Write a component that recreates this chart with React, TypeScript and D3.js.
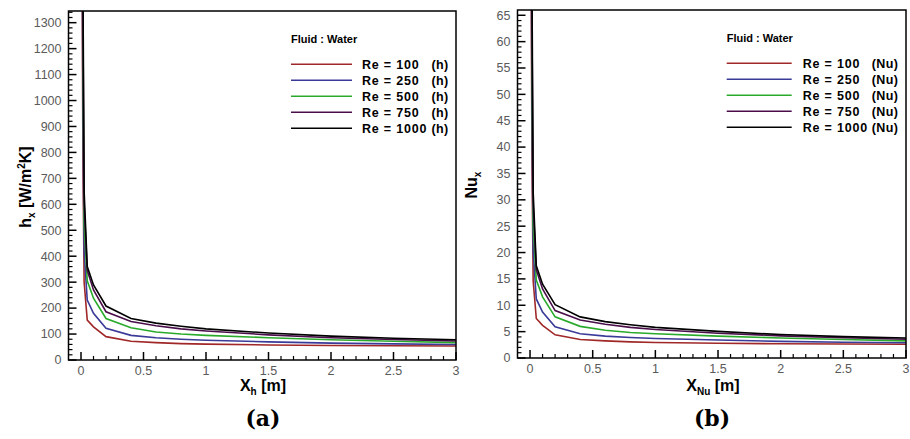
import React from "react";
import * as d3 from "d3";

const xs = [0.005, 0.015, 0.025, 0.05, 0.1, 0.2, 0.4, 0.6, 0.8, 1.0, 1.5, 2.0, 2.5, 3.0];

const reLabels = ["Re = 100", "Re = 250", "Re = 500", "Re = 750", "Re = 1000"];
const colors = ["#a02828", "#3a3a98", "#2aaa2a", "#4a0f4a", "#000000"];

const h100 = [2000, 800, 300, 154, 128, 90, 72, 67, 63, 61, 58, 56, 55, 54];
const h250 = [2300, 1000, 420, 231, 180, 122, 95, 86, 80, 76, 70, 65, 62, 60];
const h500 = [2600, 1200, 520, 305, 238, 160, 124, 108, 100, 95, 86, 78, 72, 67];
const h750 = [2800, 1350, 600, 345, 270, 186, 148, 132, 120, 112, 97, 86, 79, 73];
const h1000 = [3000, 1500, 650, 360, 289, 208, 160, 142, 130, 120, 104, 92, 84, 78];

const nu100 = [97, 39, 14.6, 7.5, 6.2, 4.4, 3.5, 3.25, 3.05, 2.95, 2.8, 2.7, 2.65, 2.6];
const nu250 = [112, 48.5, 20.4, 11.2, 8.7, 5.9, 4.6, 4.15, 3.9, 3.7, 3.4, 3.15, 3.0, 2.9];
const nu500 = [126, 58, 25, 14.8, 11.6, 7.8, 6.0, 5.25, 4.85, 4.6, 4.15, 3.8, 3.5, 3.25];
const nu750 = [136, 65.5, 29, 16.7, 13.1, 9.0, 7.2, 6.4, 5.8, 5.4, 4.7, 4.2, 3.85, 3.55];
const nu1000 = [146, 73, 31.5, 17.5, 14.0, 10.1, 7.8, 6.9, 6.3, 5.8, 5.05, 4.45, 4.05, 3.8];

const xTicks = [0, 0.5, 1, 1.5, 2, 2.5, 3];
const hTicks = d3.range(0, 1301, 100);
const nuTicks = d3.range(0, 66, 5);

const SANS = "'Liberation Sans', Arial, sans-serif";

type PanelProps = {
  id: string;
  x0: number; x1: number; y0: number; y1: number;
  yMax: number;
  yTicks: number[];
  yMinorStep: number;
  series: number[][];
  suffix: string;
  legX: number; legLineEnd: number; legTextX: number; legSufX: number; legTitleY: number; legRowY: number;
};

function Panel(p: PanelProps) {
  const x = d3.scaleLinear().domain([-0.1, 3]).range([p.x0, p.x1]);
  const y = d3.scaleLinear().domain([0, p.yMax]).range([p.y1, p.y0]);
  const line = d3.line<[number, number]>().x((d) => x(d[0])).y((d) => y(d[1]));
  const xMinor = d3.range(0, 3.0001, 0.1).filter((v) => Math.abs(v * 2 - Math.round(v * 2)) > 1e-6);
  const yMinor = d3.range(0, p.yMax, p.yMinorStep).filter((v) => !p.yTicks.some((t) => Math.abs(t - v) < 1e-6));
  return (
    <g>
      <defs>
        <clipPath id={"clip" + p.id}>
          <rect x={p.x0} y={p.y0} width={p.x1 - p.x0} height={p.y1 - p.y0} />
        </clipPath>
      </defs>
      <g clipPath={`url(#clip${p.id})`}>
        {p.series.map((s, i) => (
          <path key={i} d={line(xs.map((v, j) => [v, s[j]]) as [number, number][]) || ""} fill="none" stroke={colors[i]} strokeWidth={1.6} />
        ))}
      </g>
      <rect x={p.x0} y={p.y0} width={p.x1 - p.x0} height={p.y1 - p.y0} fill="none" stroke="#000" strokeWidth={1.5} />
      {p.yTicks.map((t) => (
        <g key={"yt" + t}>
          <line x1={p.x0} x2={p.x0 + 8} y1={y(t)} y2={y(t)} stroke="#000" strokeWidth={1.5} />
          <text x={p.x0 - 7} y={y(t)} dy="0.35em" textAnchor="end" fontFamily={SANS} fontSize={12.5} fill="#5a5a5a">{t}</text>
        </g>
      ))}
      {yMinor.map((t) => (
        <line key={"ym" + t} x1={p.x0} x2={p.x0 + 4} y1={y(t)} y2={y(t)} stroke="#000" strokeWidth={1.2} />
      ))}
      {xTicks.map((t) => (
        <g key={"xt" + t}>
          <line x1={x(t)} x2={x(t)} y1={p.y1} y2={p.y1 - 8} stroke="#000" strokeWidth={1.5} />
          <text x={x(t)} y={p.y1 + 15} textAnchor="middle" fontFamily={SANS} fontSize={12.5} fill="#5a5a5a">{t}</text>
        </g>
      ))}
      {xMinor.map((t) => (
        <line key={"xm" + t} x1={x(t)} x2={x(t)} y1={p.y1} y2={p.y1 - 4} stroke="#000" strokeWidth={1.2} />
      ))}
      <text x={p.legX} y={p.legTitleY} fontFamily={SANS} fontSize={11} fontWeight="bold" fill="#000">Fluid : Water</text>
      {reLabels.map((lab, i) => {
        const ry = p.legRowY + i * 16;
        return (
          <g key={"lg" + i}>
            <line x1={p.legX} x2={p.legLineEnd} y1={ry} y2={ry} stroke={colors[i]} strokeWidth={1.5} />
            <text x={p.legTextX} y={ry + 4.5} fontFamily={SANS} fontSize={12.5} fontWeight="bold" letterSpacing={0.8} fill="#000">{lab}</text>
            <text x={p.legSufX} y={ry + 4.5} fontFamily={SANS} fontSize={12.5} fontWeight="bold" letterSpacing={0.4} fill="#000">{p.suffix}</text>
          </g>
        );
      })}
    </g>
  );
}

export default function App() {
  return (
    <svg width={910} height={439} style={{ position: "absolute", left: 0, top: 0, background: "#fff" }}>
      <rect x={0} y={0} width={910} height={439} fill="#fff" />
      <Panel id="a" x0={68.5} x1={456} y0={11} y1={360} yMax={1345} yTicks={hTicks} yMinorStep={20}
        series={[h100, h250, h500, h750, h1000]} suffix="(h)"
        legX={291} legLineEnd={352} legTextX={362} legSufX={431.5} legTitleY={43} legRowY={64.3} />
      <Panel id="b" x0={517.5} x1={906} y0={10} y1={358} yMax={66} yTicks={nuTicks} yMinorStep={1}
        series={[nu100, nu250, nu500, nu750, nu1000]} suffix="(Nu)"
        legX={726.7} legLineEnd={791.7} legTextX={802.7} legSufX={871.7} legTitleY={42} legRowY={63.3} />
      <text transform="translate(31,187) rotate(-90)" textAnchor="middle" fontFamily={SANS} fontSize={16} fontWeight="bold">
        h<tspan fontSize={10} dy={4}>x</tspan><tspan dy={-4}> [W/m</tspan><tspan fontSize={10} dy={-6}>2</tspan><tspan dy={6}>K]</tspan>
      </text>
      <text transform="translate(477,185) rotate(-90)" textAnchor="middle" fontFamily={SANS} fontSize={16} fontWeight="bold">
        Nu<tspan fontSize={10} dy={4}>x</tspan>
      </text>
      <text x={263} y={391} textAnchor="middle" fontFamily={SANS} fontSize={16} fontWeight="bold">
        X<tspan fontSize={10} dy={4}>h</tspan><tspan dy={-4}> [m]</tspan>
      </text>
      <text x={713} y={391} textAnchor="middle" fontFamily={SANS} fontSize={16} fontWeight="bold">
        X<tspan fontSize={10} dy={4}>Nu</tspan><tspan dy={-4}> [m]</tspan>
      </text>
      <text x={263} y={426} textAnchor="middle" fontFamily="'DejaVu Serif', serif" fontSize={22} fontWeight="bold">(a)</text>
      <text x={712} y={426} textAnchor="middle" fontFamily="'DejaVu Serif', serif" fontSize={22} fontWeight="bold">(b)</text>
    </svg>
  );
}
